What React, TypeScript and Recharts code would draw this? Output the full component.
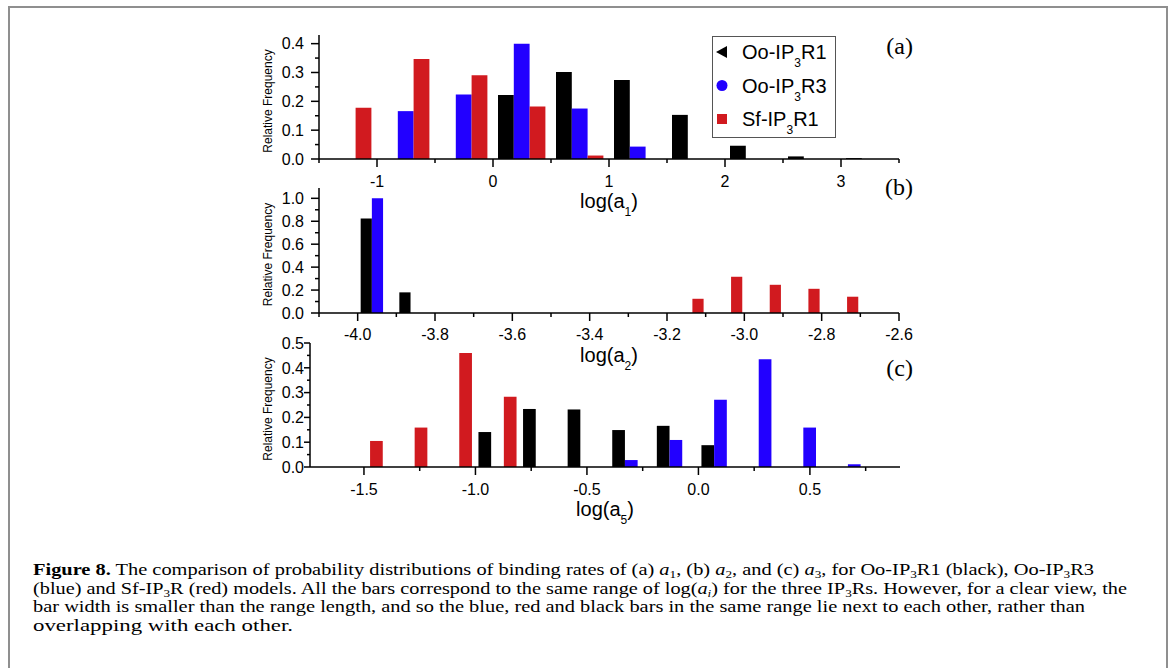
import React from 'react';
import { BarChart, Bar, XAxis, YAxis, Legend, Label } from 'recharts';

// ---------- series ----------
const seriesNames = ['Oo-IP3R1', 'Oo-IP3R3', 'Sf-IP3R1'];
const seriesKeys = ['black', 'blue', 'red'];
const seriesColors = ['#000000', '#2200ff', '#d11a1f'];
const legendShapes = ['triangle', 'circle', 'square'];

// ---------- panel (a): log(a1) ----------
const binsA = [-1.25, -0.75, -0.25, 0.25, 0.75, 1.25, 1.75, 2.25, 2.75, 3.25];
const blackA = [0, 0, 0, 0.222, 0.302, 0.274, 0.153, 0.046, 0.009, 0.003];
const blueA = [0, 0.166, 0.224, 0.4, 0.175, 0.043, 0, 0, 0, 0];
const redA = [0.178, 0.347, 0.29, 0.182, 0.012, 0, 0, 0, 0, 0];
const xMajorA = [-1, 0, 1, 2, 3];
const xMinorA = [-1.5, -0.5, 0.5, 1.5, 2.5, 3.5];
const yMajorA = [0, 0.1, 0.2, 0.3, 0.4];
const yMinorA = [0.05, 0.15, 0.25, 0.35];

// ---------- panel (b): log(a2) ----------
const binsB = [-3.95, -3.85, -3.75, -3.65, -3.55, -3.45, -3.35, -3.25, -3.15, -3.05, -2.95, -2.85, -2.75];
const blackB = [0.825, 0.18, 0, 0, 0, 0, 0, 0, 0, 0, 0, 0, 0];
const blueB = [1.0, 0, 0, 0, 0, 0, 0, 0, 0, 0, 0, 0, 0];
const redB = [0, 0, 0, 0, 0, 0, 0, 0, 0.124, 0.316, 0.246, 0.211, 0.142];
const xMajorB = [-4.0, -3.8, -3.6, -3.4, -3.2, -3.0, -2.8, -2.6];
const xMinorB = [-4.1, -3.9, -3.7, -3.5, -3.3, -3.1, -2.9, -2.7];
const yMajorB = [0, 0.2, 0.4, 0.6, 0.8, 1.0];
const yMinorB = [0.1, 0.3, 0.5, 0.7, 0.9];

// ---------- panel (c): log(a5) ----------
const binsC = [-1.5, -1.3, -1.1, -0.9, -0.7, -0.5, -0.3, -0.1, 0.1, 0.3, 0.5, 0.7];
const blackC = [0, 0, 0, 0.141, 0.234, 0.232, 0.149, 0.166, 0.088, 0, 0, 0];
const blueC = [0, 0, 0, 0, 0, 0, 0.028, 0.109, 0.271, 0.434, 0.159, 0.011];
const redC = [0.105, 0.159, 0.46, 0.283, 0, 0, 0, 0, 0, 0, 0, 0];
const xMajorC = [-1.5, -1.0, -0.5, 0.0, 0.5];
const xMinorC = [-1.25, -0.75, -0.25, 0.25, 0.75];
const yMajorC = [0, 0.1, 0.2, 0.3, 0.4, 0.5];
const yMinorC = [0.05, 0.15, 0.25, 0.35, 0.45];

const SANS = '"Liberation Sans", Arial, sans-serif';
const SERIF = '"Liberation Serif", "Times New Roman", serif';

const isIn = (arr: number[], v: number) => arr.some((m) => Math.abs(m - v) < 1e-6);
const fmtInt = (v: number) => String(Math.round(v));
const fmt1 = (v: number) => v.toFixed(1);

function splitName(name: string) {
  const idx = name.indexOf('IP3');
  return { head: name.slice(0, idx + 2), sub: '3', tail: name.slice(idx + 3) };
}

const XTick = (props: any) => {
  const { x, y, payload, majors, fmt, lens, labelDy } = props;
  const v = payload.value;
  const major = isIn(majors, v);
  return (
    <g>
      <line x1={x} x2={x} y1={y} y2={y + (major ? lens[0] : lens[1])} stroke="#000" strokeWidth={1.5} />
      {major && (
        <text x={x} y={y + labelDy} textAnchor="middle" fontSize={16} fontFamily={SANS} fill="#000">
          {fmt(v)}
        </text>
      )}
    </g>
  );
};

const YTick = (props: any) => {
  const { x, y, payload, majors, fmt, lens, labelGap } = props;
  const v = payload.value;
  const major = isIn(majors, v);
  return (
    <g>
      <line x1={x} x2={x - (major ? lens[0] : lens[1])} y1={y} y2={y} stroke="#000" strokeWidth={1.5} />
      {major && (
        <text x={x - labelGap} y={y + 5.7} textAnchor="end" fontSize={16} fontFamily={SANS} fill="#000">
          {fmt(v)}
        </text>
      )}
    </g>
  );
};

const LegendBox = (props: any) => {
  const payload = props.payload || [];
  return (
    <svg width={125} height={102} style={{ display: 'block' }}>
      <rect x={0.5} y={0.5} width={123} height={101} fill="#fff" stroke="#555" strokeWidth={1} />
      {payload.map((p: any, i: number) => {
        const cy = 16 + i * 33.5;
        const cx = 10;
        const shape = legendShapes[i];
        const n = splitName(String(p.value));
        return (
          <g key={i}>
            {shape === 'triangle' && (
              <polygon points={`${cx - 6},${cy} ${cx + 5},${cy - 6} ${cx + 5},${cy + 6}`} fill={p.color} />
            )}
            {shape === 'circle' && <circle cx={cx} cy={cy} r={5.5} fill={p.color} />}
            {shape === 'square' && <rect x={cx - 5} y={cy - 5} width={10} height={10} fill={p.color} />}
            <text x={30} y={cy + 7} fontSize={20} fontFamily={SANS} fill="#000">
              {n.head}
              <tspan fontSize={12} dy={8}>{n.sub}</tspan>
              <tspan dy={-8}>{n.tail}</tspan>
            </text>
          </g>
        );
      })}
    </svg>
  );
};

type PanelProps = {
  left: number; top: number; width: number; height: number; yAxisWidth: number;
  bins: number[]; black: number[]; blue: number[]; red: number[];
  xDomain: [number, number]; yDomain: [number, number];
  xMajor: number[]; xMinor: number[]; yMajor: number[]; yMinor: number[];
  xFmt: (v: number) => string; yFmt: (v: number) => string;
  barSize: number; xSub: string;
  xLens: [number, number]; yLens: [number, number];
  xLabelDy: number; yLabelGap: number; legend?: boolean;
};

const Panel = (p: PanelProps) => {
  const data = p.bins.map((x, i) => ({ x, black: p.black[i], blue: p.blue[i], red: p.red[i] }));
  const xTicks = [...p.xMajor, ...p.xMinor].sort((a, b) => a - b);
  const yTicks = [...p.yMajor, ...p.yMinor].sort((a, b) => a - b);
  const xLabel = (lp: any) => {
    const vb = lp.viewBox || {};
    return (
      <text x={vb.x + vb.width / 2} y={vb.y + 48.5} textAnchor="middle" fontSize={20} fontFamily={SANS} fill="#000">
        log(a
        <tspan fontSize={12} dy={8}>{p.xSub}</tspan>
        <tspan dy={-8}>)</tspan>
      </text>
    );
  };
  const yLabel = (lp: any) => {
    const vb = lp.viewBox || {};
    const x = vb.x + 32;
    const y = vb.y + vb.height / 2 + 4;
    return (
      <text x={x} y={y} transform={`rotate(-90, ${x}, ${y})`} textAnchor="middle" fontSize={12} fontFamily={SANS} fill="#000">
        Relative Frequency
      </text>
    );
  };
  return (
    <div style={{ position: 'absolute', left: p.left, top: p.top }}>
      <BarChart
        width={p.width}
        height={p.height}
        data={data}
        margin={{ top: 10, right: 30, left: 0, bottom: 0 }}
        barSize={p.barSize}
        barGap={0}
      >
        <XAxis
          dataKey="x"
          type="number"
          domain={p.xDomain}
          allowDataOverflow
          ticks={xTicks}
          interval={0}
          tickSize={0}
          tickMargin={0}
          tickLine={false}
          axisLine={{ stroke: '#000', strokeWidth: 1.5 }}
          height={60}
          tick={(tp: any) => <XTick {...tp} majors={p.xMajor} fmt={p.xFmt} lens={p.xLens} labelDy={p.xLabelDy} />}
          label={<Label content={xLabel} />}
        />
        <YAxis
          type="number"
          domain={p.yDomain}
          allowDataOverflow
          ticks={yTicks}
          interval={0}
          width={p.yAxisWidth}
          tickSize={0}
          tickMargin={0}
          tickLine={false}
          axisLine={{ stroke: '#000', strokeWidth: 1.5 }}
          tick={(tp: any) => <YTick {...tp} majors={p.yMajor} fmt={p.yFmt} lens={p.yLens} labelGap={p.yLabelGap} />}
          label={<Label content={yLabel} />}
        />
        {seriesKeys.map((k, i) => (
          <Bar key={k} dataKey={k} name={seriesNames[i]} fill={seriesColors[i]} isAnimationActive={false} />
        ))}
        {p.legend && (
          <Legend
            layout="vertical"
            align="center"
            verticalAlign="middle"
            content={(lp: any) => <LegendBox {...lp} />}
            wrapperStyle={{ left: 471.7, top: 11, width: 125, height: 102 }}
          />
        )}
      </BarChart>
    </div>
  );
};

const Caption = () => {
  const it = (s: string) => <tspan fontStyle="italic">{s}</tspan>;
  return (
    <g fontFamily={SERIF} fontSize={17} fill="#000">
      <text x={33} y={575} textLength={1061} lengthAdjust="spacingAndGlyphs">
        <tspan fontWeight="bold">{'Figure 8.'}</tspan>
        {' The comparison of probability distributions of binding rates of (a) '}
        {it('a')}
        <tspan fontSize={11} dy={3}>1</tspan>
        <tspan dy={-3}>{', (b) '}</tspan>
        {it('a')}
        <tspan fontSize={11} dy={3}>2</tspan>
        <tspan dy={-3}>{', and (c) '}</tspan>
        {it('a')}
        <tspan fontSize={11} dy={3}>3</tspan>
        <tspan dy={-3}>{', for Oo-IP'}</tspan>
        <tspan fontSize={11} dy={3}>3</tspan>
        <tspan dy={-3}>{'R1 (black), Oo-IP'}</tspan>
        <tspan fontSize={11} dy={3}>3</tspan>
        <tspan dy={-3}>{'R3'}</tspan>
      </text>
      <text x={33} y={593.5} textLength={1094} lengthAdjust="spacingAndGlyphs">
        {'(blue) and Sf-IP'}
        <tspan fontSize={11} dy={3}>3</tspan>
        <tspan dy={-3}>{'R (red) models. All the bars correspond to the same range of log('}</tspan>
        {it('a')}
        <tspan fontSize={11} dy={3} fontStyle="italic">i</tspan>
        <tspan dy={-3}>{') for the three IP'}</tspan>
        <tspan fontSize={11} dy={3}>3</tspan>
        <tspan dy={-3}>{'Rs. However, for a clear view, the'}</tspan>
      </text>
      <text x={33} y={612} textLength={1052} lengthAdjust="spacingAndGlyphs">
        {'bar width is smaller than the range length, and so the blue, red and black bars in the same range lie next to each other, rather than'}
      </text>
      <text x={33} y={630.5} textLength={260} lengthAdjust="spacingAndGlyphs">
        {'overlapping with each other.'}
      </text>
    </g>
  );
};

export default function App() {
  return (
    <div style={{ position: 'absolute', left: 0, top: 0, width: 1171, height: 668, overflow: 'hidden', background: '#fff' }}>
      <div style={{ position: 'absolute', left: 8, top: 6, width: 1156, height: 720, border: '2px solid #8f8f8f' }} />
      <Panel
        left={240} top={25} width={689} height={194} yAxisWidth={79}
        bins={binsA} black={blackA} blue={blueA} red={redA}
        xDomain={[-1.5, 3.5]} yDomain={[0, 0.43]}
        xMajor={xMajorA} xMinor={xMinorA} yMajor={yMajorA} yMinor={yMinorA}
        xFmt={fmtInt} yFmt={fmt1} barSize={15.8} xSub="1"
        xLens={[8, 4]} yLens={[8, 4]} xLabelDy={28} yLabelGap={15} legend
      />
      <Panel
        left={240} top={178} width={689} height={195} yAxisWidth={79}
        bins={binsB} black={blackB} blue={blueB} red={redB}
        xDomain={[-4.1, -2.6]} yDomain={[0, 1.09]}
        xMajor={xMajorB} xMinor={xMinorB} yMajor={yMajorB} yMinor={yMinorB}
        xFmt={fmt1} yFmt={fmt1} barSize={11.2} xSub="2"
        xLens={[8, 4]} yLens={[8, 4]} xLabelDy={27} yLabelGap={15}
      />
      <Panel
        left={240} top={333} width={690} height={194} yAxisWidth={70}
        bins={binsC} black={blackC} blue={blueC} red={redC}
        xDomain={[-1.742, 0.904]} yDomain={[0, 0.5]}
        xMajor={xMajorC} xMinor={xMinorC} yMajor={yMajorC} yMinor={yMinorC}
        xFmt={fmt1} yFmt={fmt1} barSize={12.7} xSub="5"
        xLens={[8, 4]} yLens={[6, 3]} xLabelDy={28} yLabelGap={6}
      />
      <svg width={1171} height={668} style={{ position: 'absolute', left: 0, top: 0, pointerEvents: 'none' }}>
        <g fontFamily={SERIF} fontSize={24} fill="#000">
          <text x={913} y={53.5} textAnchor="end">(a)</text>
          <text x={913} y={195} textAnchor="end">(b)</text>
          <text x={913} y={376} textAnchor="end">(c)</text>
        </g>
        <Caption />
      </svg>
    </div>
  );
}
